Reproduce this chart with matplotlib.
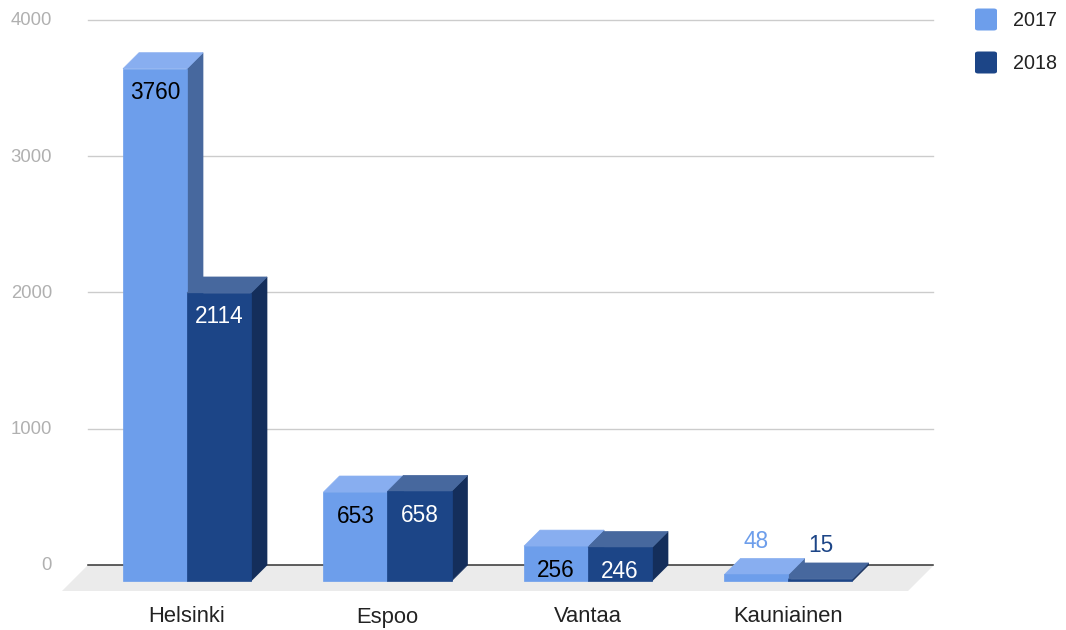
import matplotlib
matplotlib.use("Agg")
import matplotlib.pyplot as plt
from matplotlib.patches import Polygon, FancyBboxPatch

cities = ["Helsinki", "Espoo", "Vantaa", "Kauniainen"]
years = ["2017", "2018"]
v2017 = [3760, 653, 256, 48]
v2018 = [2114, 658, 246, 15]
yticks = [0, 1000, 2000, 3000, 4000]

# colours per series: front, top, side
FRONT = ["#6d9eeb", "#1c4587"]
TOP = ["#88aef0", "#47689e"]
SIDE = ["#47689e", "#142e5b"]
TXT_IN = ["#000000", "#ffffff"]

W, H, DPI = 1066, 630, 100
PX_V = 545 / 4000.0      # pixels per value unit
STEP = 200.5             # pixels between groups
X0 = 187                 # pixel x of first group centre
ZERO = 581               # pixel y of zero on front plane
DEPTH = 16               # bar depth in pixels

plt.rcParams['font.family'] = ['Liberation Sans', 'DejaVu Sans']

fig = plt.figure(figsize=(W / DPI, H / DPI), dpi=DPI)
ax = fig.add_axes([0, 0, 1, 1])
ax.axis('off')
ax.set_xlim(-X0 / STEP, (W - X0) / STEP)
ax.set_ylim(-(H - ZERO) / PX_V, ZERO / PX_V)

def px(dx):
    return dx / STEP

def pv(dy):
    return dy / PX_V

ddx, ddy = px(DEPTH), pv(DEPTH)

# floor
fl, fr = px(62 - X0), px(908 - X0)
ff = pv(-10)
floor = Polygon([(fl, ff), (fr, ff), (fr + px(26), ff + pv(26)), (fl + px(26), ff + pv(26))],
                closed=True, fc="#ebebeb", ec="none", zorder=1)
ax.add_patch(floor)

# back wall gridlines + tick labels
gl, gr = px(88 - X0), px(933 - X0)
for t in yticks:
    c = "#333333" if t == 0 else "#cccccc"
    ax.plot([gl, gr], [t + ddy, t + ddy], color=c, lw=1.1 if t == 0 else 1.0, zorder=2)
    ax.text(px(52 - X0), t + ddy - pv(1), str(t), ha="right", va="center",
            fontsize=13.3, color="#b0b0b0", zorder=2)

bw = px(64)

def bar3d(x, v, s):
    front = [(x, 0), (x + bw, 0), (x + bw, v), (x, v)]
    top = [(x, v), (x + bw, v), (x + bw + ddx, v + ddy), (x + ddx, v + ddy)]
    side = [(x + bw, 0), (x + bw + ddx, ddy), (x + bw + ddx, v + ddy), (x + bw, v)]
    for pts, col in ((side, SIDE[s]), (top, TOP[s]), (front, FRONT[s])):
        ax.add_patch(Polygon(pts, closed=True, fc=col, ec=col, lw=0.5, zorder=3))

for i, city in enumerate(cities):
    for s, vals in enumerate((v2017, v2018)):
        v = vals[i]
        x = i - bw + s * bw
        bar3d(x, v, s)
        cx = x + bw / 2
        if v > pv(20):
            ax.text(cx, v - pv(24), str(v), ha="center", va="center",
                    fontsize=16.3, color=TXT_IN[s], zorder=4)
        else:
            ax.text(cx, v + ddy + pv(17), str(v), ha="center", va="center",
                    fontsize=16.3, color=FRONT[s], zorder=4)
    ax.text(i, pv(-36), city, ha="center", va="center", fontsize=15.8,
            color="#222222", zorder=4)

# legend
for s, yr in enumerate(years):
    yc = 19.5 + s * 43
    sq = FancyBboxPatch((975 / W, 1 - (yc + 11) / H), 22 / W, 22 / H,
                        boxstyle="round,pad=0,rounding_size=0.003",
                        transform=fig.transFigure, fc=FRONT[s], ec="none")
    fig.patches.append(sq)
    fig.text(1013 / W, 1 - (yc + 1) / H, yr, ha="left", va="center",
             fontsize=14.2, color="#222222")

fig.savefig("out.png", dpi=DPI, facecolor="white")
